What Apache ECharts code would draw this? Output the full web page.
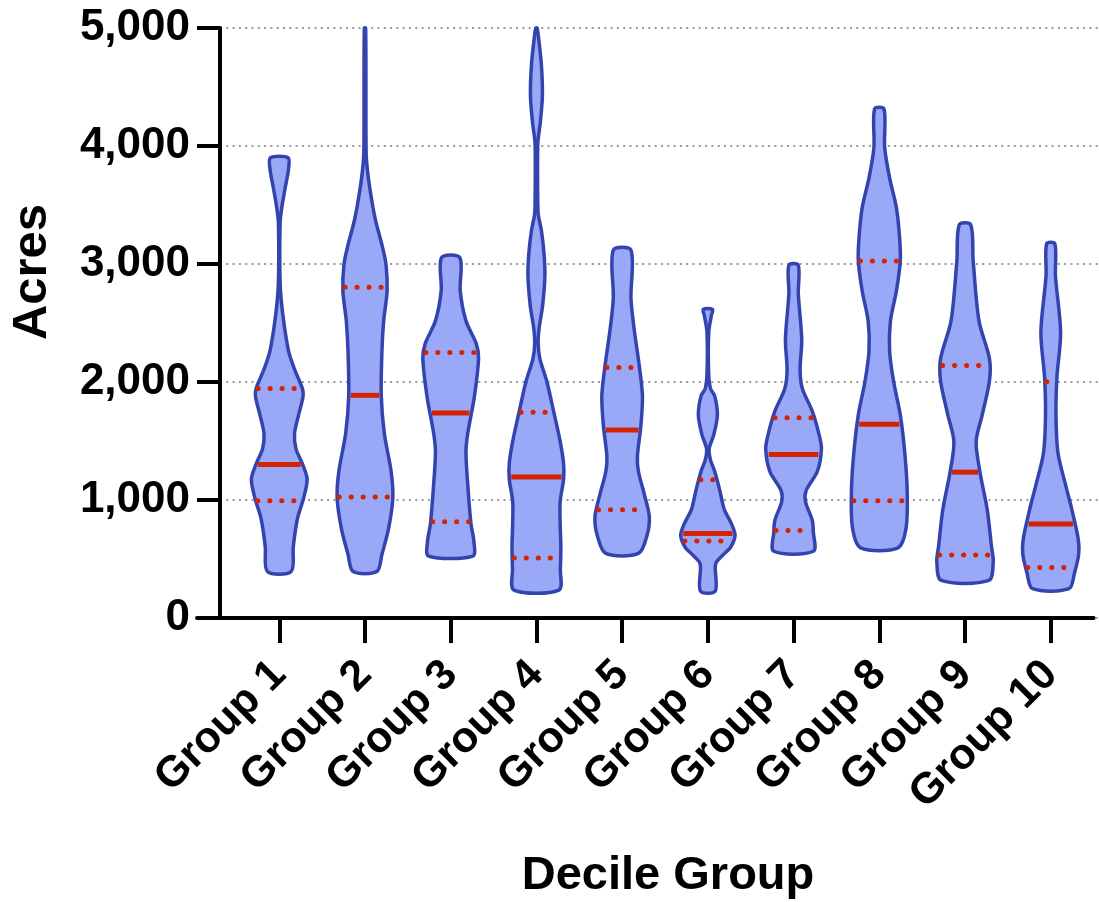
<!DOCTYPE html>
<html>
<head>
<meta charset="utf-8">
<script src="https://cdn.jsdelivr.net/npm/echarts@6/dist/echarts.min.js"></script>
<style>
html,body{margin:0;padding:0;background:#fff;}
#chart{width:1099px;height:902px;}
</style>
</head>
<body>
<div id="chart"></div>
<script>
// ---- data ----
const categories = ['Group 1','Group 2','Group 3','Group 4','Group 5','Group 6','Group 7','Group 8','Group 9','Group 10'];
const yTickLabels = ['0','1,000','2,000','3,000','4,000','5,000'];
const medians = [1300, 1887, 1737, 1194, 1593, 716, 1386, 1643, 1236, 796];
const q1s     = [993, 1025, 815, 508, 917, 652, 741, 993, 534, 429];
const q3s     = [1944, 2802, 2250, 1743, 2123, 1172, 1698, 3025, 2139, 2002];

// violin outlines: [acres, half-width as fraction of category band], top to bottom
const profile1 = [[3900,0.103],[3800,0.107],[3650,0.07],[3480,0.03],[3350,0.01],[2840,0.01],[2580,0.04],[2263,0.108],[2104,0.18],[1944,0.27],[1880,0.278],[1720,0.225],[1561,0.178],[1433,0.195],[1306,0.27],[1178,0.325],[1019,0.285],[860,0.218],[732,0.186],[600,0.163],[394,0.138]];
const profile2 = [[5000,0.008],[4017,0.012],[3858,0.02],[3635,0.058],[3380,0.12],[3156,0.2],[2997,0.245],[2773,0.258],[2518,0.218],[2263,0.198],[1880,0.19],[1561,0.226],[1242,0.305],[1019,0.325],[764,0.277],[540,0.198],[394,0.138]];
const profile3 = [[3054,0.107],[2773,0.111],[2518,0.178],[2327,0.297],[2199,0.325],[1880,0.277],[1561,0.198],[1401,0.178],[1082,0.204],[796,0.237],[652,0.27],[525,0.258]];
const profile4 = [[5000,0.008],[4879,0.031],[4687,0.058],[4432,0.07],[4209,0.047],[4017,0.016],[3500,0.016],[3411,0.023],[3283,0.058],[3092,0.088],[2900,0.099],[2646,0.072],[2454,0.031],[2327,0.02],[2199,0.04],[2008,0.12],[1753,0.2],[1497,0.277],[1306,0.317],[1178,0.317],[987,0.277],[796,0.277],[605,0.285],[413,0.279],[237,0.262]];
const profile5 = [[3118,0.103],[2710,0.103],[2454,0.139],[2135,0.2],[1880,0.237],[1625,0.218],[1369,0.178],[1242,0.19],[1050,0.258],[860,0.317],[700,0.29],[547,0.19]];
const profile6 = [[2616,0.054],[2560,0.04],[2420,0.01],[2065,0.01],[1944,0.031],[1880,0.08],[1720,0.111],[1561,0.072],[1433,0.015],[1338,0.031],[1242,0.08],[1082,0.139],[923,0.19],[796,0.277],[700,0.317],[600,0.265],[530,0.17],[475,0.1],[430,0.086],[228,0.086]];
const profile7 = [[2990,0.055],[2750,0.055],[2360,0.095],[2104,0.076],[1944,0.102],[1753,0.218],[1561,0.295],[1433,0.325],[1242,0.277],[1082,0.147],[987,0.139],[828,0.218],[732,0.23],[566,0.23]];
const profile8 = [[4314,0.055],[3986,0.063],[3730,0.12],[3475,0.2],[3220,0.237],[3028,0.245],[2773,0.2],[2518,0.13],[2263,0.12],[2008,0.166],[1721,0.245],[1402,0.297],[1082,0.325],[764,0.313],[595,0.218]];
const profile9 = [[3332,0.067],[3029,0.095],[2518,0.163],[2199,0.285],[2008,0.285],[1720,0.2],[1497,0.13],[1242,0.173],[923,0.258],[604,0.309],[477,0.329],[318,0.277]];
const profile10 = [[3172,0.048],[2900,0.055],[2422,0.115],[2040,0.072],[1721,0.061],[1401,0.084],[1114,0.178],[923,0.245],[668,0.321],[541,0.326],[382,0.277],[248,0.212]];
const profiles = [profile1,profile2,profile3,profile4,profile5,profile6,profile7,profile8,profile9,profile10];

// ---- rendering ----
const FONT = '"Liberation Sans", Arial, Helvetica, sans-serif';
const FILL = '#9aa9f7';
const EDGE = '#3444ae';
const RED = '#d42300';

function halfWidthAt(profile, v) {
  for (let k = 0; k < profile.length - 1; k++) {
    const a = profile[k], b = profile[k + 1];
    if (v <= a[0] && v >= b[0]) {
      const t = (a[0] - v) / (a[0] - b[0] || 1);
      return a[1] + (b[1] - a[1]) * t;
    }
  }
  return 0;
}

function renderViolin(params, api) {
  const i = api.value(0);
  const prof = profiles[i];
  const band = api.size([1, 0])[0];
  const cx = api.coord([i, 0])[0];
  const left = [], right = [];
  prof.forEach(function (p) {
    const y = api.coord([i, p[0]])[1];
    left.push([cx - p[1] * band, y]);
  });
  for (let k = prof.length - 1; k >= 0; k--) {
    const y = api.coord([i, prof[k][0]])[1];
    right.push([cx + prof[k][1] * band, y]);
  }
  const pts = left.concat(right);
  function hline(v, dotted) {
    const y = api.coord([i, v])[1];
    const hw = halfWidthAt(prof, v) * band - 2;
    return {
      type: 'line',
      shape: { x1: cx - hw, y1: y, x2: cx + hw, y2: y },
      style: dotted
        ? { stroke: RED, lineWidth: 5, lineDash: [0.1, 11.9], lineCap: 'round' }
        : { stroke: RED, lineWidth: 5 },
      z2: 5
    };
  }
  return {
    type: 'group',
    children: [
      {
        type: 'polygon',
        shape: { points: pts, smooth: 0.3 },
        style: { fill: FILL, stroke: EDGE, lineWidth: 3.5, lineJoin: 'round' },
        z2: 1
      },
      hline(q1s[i], true),
      hline(q3s[i], true),
      hline(medians[i], false)
    ]
  };
}

const chart = echarts.init(document.getElementById('chart'), null, { renderer: 'canvas' });
const gTop = 28, gBottom = 284;
chart.setOption({
  backgroundColor: '#fff',
  animation: false,
  grid: [
    { left: 220, right: 0, top: gTop, bottom: gBottom },
    { left: 236.4, right: 5.4, top: gTop, bottom: gBottom },
    { left: 197, right: 5.4, top: gTop, bottom: gBottom }
  ],
  xAxis: [
    { gridIndex: 0, type: 'value', min: 0, max: 1, show: false },
    {
      gridIndex: 1, type: 'category', data: categories, boundaryGap: true,
      axisLine: { show: false },
      axisTick: { show: true, alignWithLabel: true, length: 25, lineStyle: { color: '#000', width: 4 } },
      axisLabel: { interval: 0, rotate: 45, margin: 50, color: '#000', fontSize: 43, fontWeight: 'bold', fontFamily: FONT },
      splitLine: { show: false }
    },
    {
      gridIndex: 2, type: 'value', min: 0, max: 1,
      axisLine: { show: true, lineStyle: { color: '#000', width: 4 } },
      axisTick: { show: false }, axisLabel: { show: false }, splitLine: { show: false }
    }
  ],
  yAxis: [
    {
      gridIndex: 0, type: 'value', min: 0, max: 5000, interval: 1000,
      axisLine: { show: true, lineStyle: { color: '#000', width: 4 } },
      axisTick: { show: true, length: 23, lineStyle: { color: '#000', width: 4 } },
      axisLabel: {
        margin: 30, color: '#000', fontSize: 44, fontWeight: 'bold', fontFamily: FONT,
        formatter: function (v) { return yTickLabels[Math.round(v / 1000)]; }
      },
      splitLine: { show: true, lineStyle: { color: '#999999', width: 2, type: [2, 4.3] } }
    },
    { gridIndex: 1, type: 'value', min: 0, max: 5000, show: false },
    { gridIndex: 2, type: 'value', min: 0, max: 5000, show: false }
  ],
  graphic: [
    {
      type: 'text', x: 32, y: 272, rotation: Math.PI / 2,
      style: { text: 'Acres', fill: '#000', font: 'bold 49px ' + FONT, align: 'center', verticalAlign: 'middle' }
    },
    {
      type: 'text', x: 668, y: 876,
      style: { text: 'Decile Group', fill: '#000', font: 'bold 47px ' + FONT, align: 'center', verticalAlign: 'middle' }
    }
  ],
  series: [
    {
      type: 'custom', xAxisIndex: 1, yAxisIndex: 1,
      renderItem: renderViolin,
      data: categories.map(function (c, i) { return [i]; }),
      encode: { x: 0 },
      clip: false
    }
  ]
});
</script>
</body>
</html>
